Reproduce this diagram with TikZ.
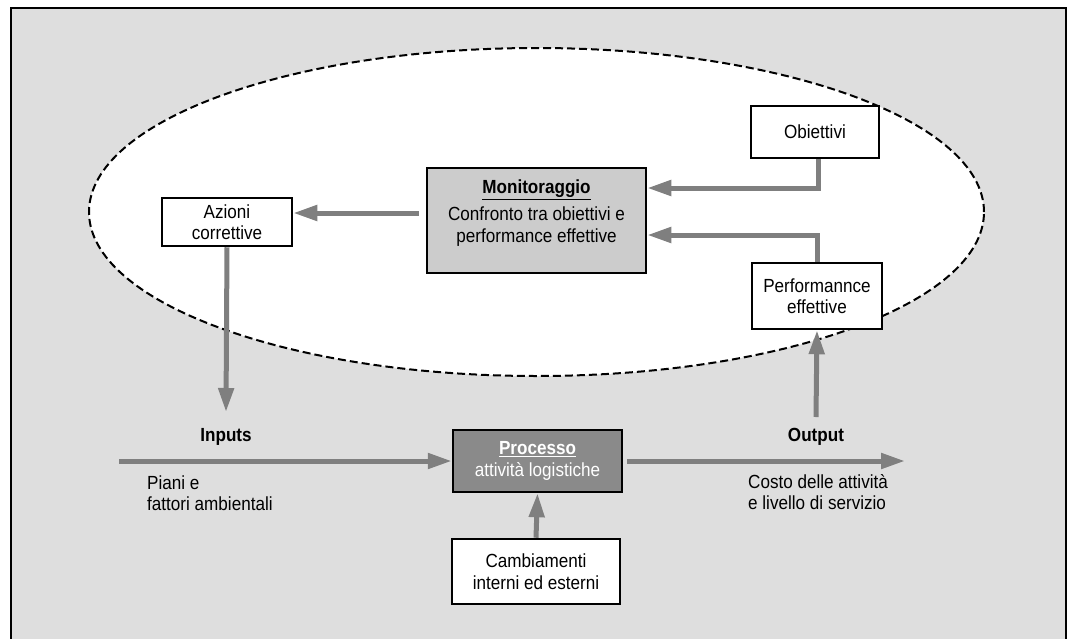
\documentclass[tikz,border=0pt]{standalone}
\usepackage{fontspec}
\setmainfont{Liberation Sans}[FakeStretch=0.9]
\usetikzlibrary{arrows.meta}
\definecolor{bgc}{HTML}{DEDEDE}
\definecolor{arrgray}{HTML}{7F7F7F}
\definecolor{monfill}{HTML}{CCCCCC}
\definecolor{procfill}{HTML}{8A8A8A}
\begin{document}
\begin{tikzpicture}[x=1pt,y=-1pt,
  font=\fontsize{19}{21.5}\selectfont,
  box/.style={draw=black, line width=2.5pt, fill=white, align=center, inner sep=0pt},
  arr/.style={draw=arrgray, line width=5pt, -{Triangle[length=24pt,width=15pt]}},
  lbl/.style={inner sep=0pt, align=center},
  lbll/.style={inner sep=0pt, align=left, anchor=west}]
\useasboundingbox (0,0) rectangle (1072,638);
% frame
\draw[line width=2.5pt, fill=bgc] (11,8) rectangle (1066,660);
% ellipse
\draw[line width=2pt, dash pattern=on 8pt off 4pt, fill=white] (536.5,212) ellipse [x radius=447.5pt, y radius=164pt];
% boxes
\node[box, fill=monfill, minimum width=219pt, minimum height=105pt] (mon) at (536.5,220.5) {};
\node[lbl] (montxt) at (536.5,213) {\textbf{\underline{Monitoraggio}}\\[6pt]Confronto tra obiettivi e\\performance effettive};
\node[box, minimum width=130pt, minimum height=48pt] (az) at (227,222) {Azioni\\correttive};
\node[box, minimum width=128pt, minimum height=52pt] (ob) at (815,132) {Obiettivi};
\node[box, minimum width=130pt, minimum height=66pt] (perf) at (817,296) {Performannce\\effettive};
\node[box, fill=procfill, text=white, minimum width=169pt, minimum height=62pt] (proc) at (537.5,461) {\textbf{\underline{Processo}}\\attività logistiche};
\node[box, minimum width=168pt, minimum height=65pt] (camb) at (536,571.5) {Cambiamenti\\interni ed esterni};
% labels
\node[lbl] (inp) at (226,437) {\textbf{Inputs}};
\node[lbl] (outp) at (816,437) {\textbf{Output}};
\node[lbll] (piani) at (147,493) {Piani e\\fattori ambientali};
\node[lbll] (costo) at (748,492) {Costo delle attività\\e livello di servizio};
% coordinates
\coordinate (azend) at (226,412);
\coordinate (inl) at (119,461);
\coordinate (outr) at (905,461);
\coordinate (outup) at (816,417);
% arrows
\draw[arr] ([xshift=-7pt]mon.west |- 0,213) -- (az.east |- 0,213);
\draw[arr] ([xshift=3pt]ob.south) -- ([xshift=3pt]ob.south |- 0,188) -- (mon.east |- 0,188);
\draw[arr] (perf.north) -- (perf.north |- 0,235) -- (mon.east |- 0,235);
\draw[arr] (az.south) -- (azend);
\draw[arr] (outup) -- (perf.south);
\draw[arr] (inl) -- (proc.west);
\draw[arr] ([xshift=4pt]proc.east) -- (outr);
\draw[arr] (camb.north) -- (proc.south);
\end{tikzpicture}
\end{document}
